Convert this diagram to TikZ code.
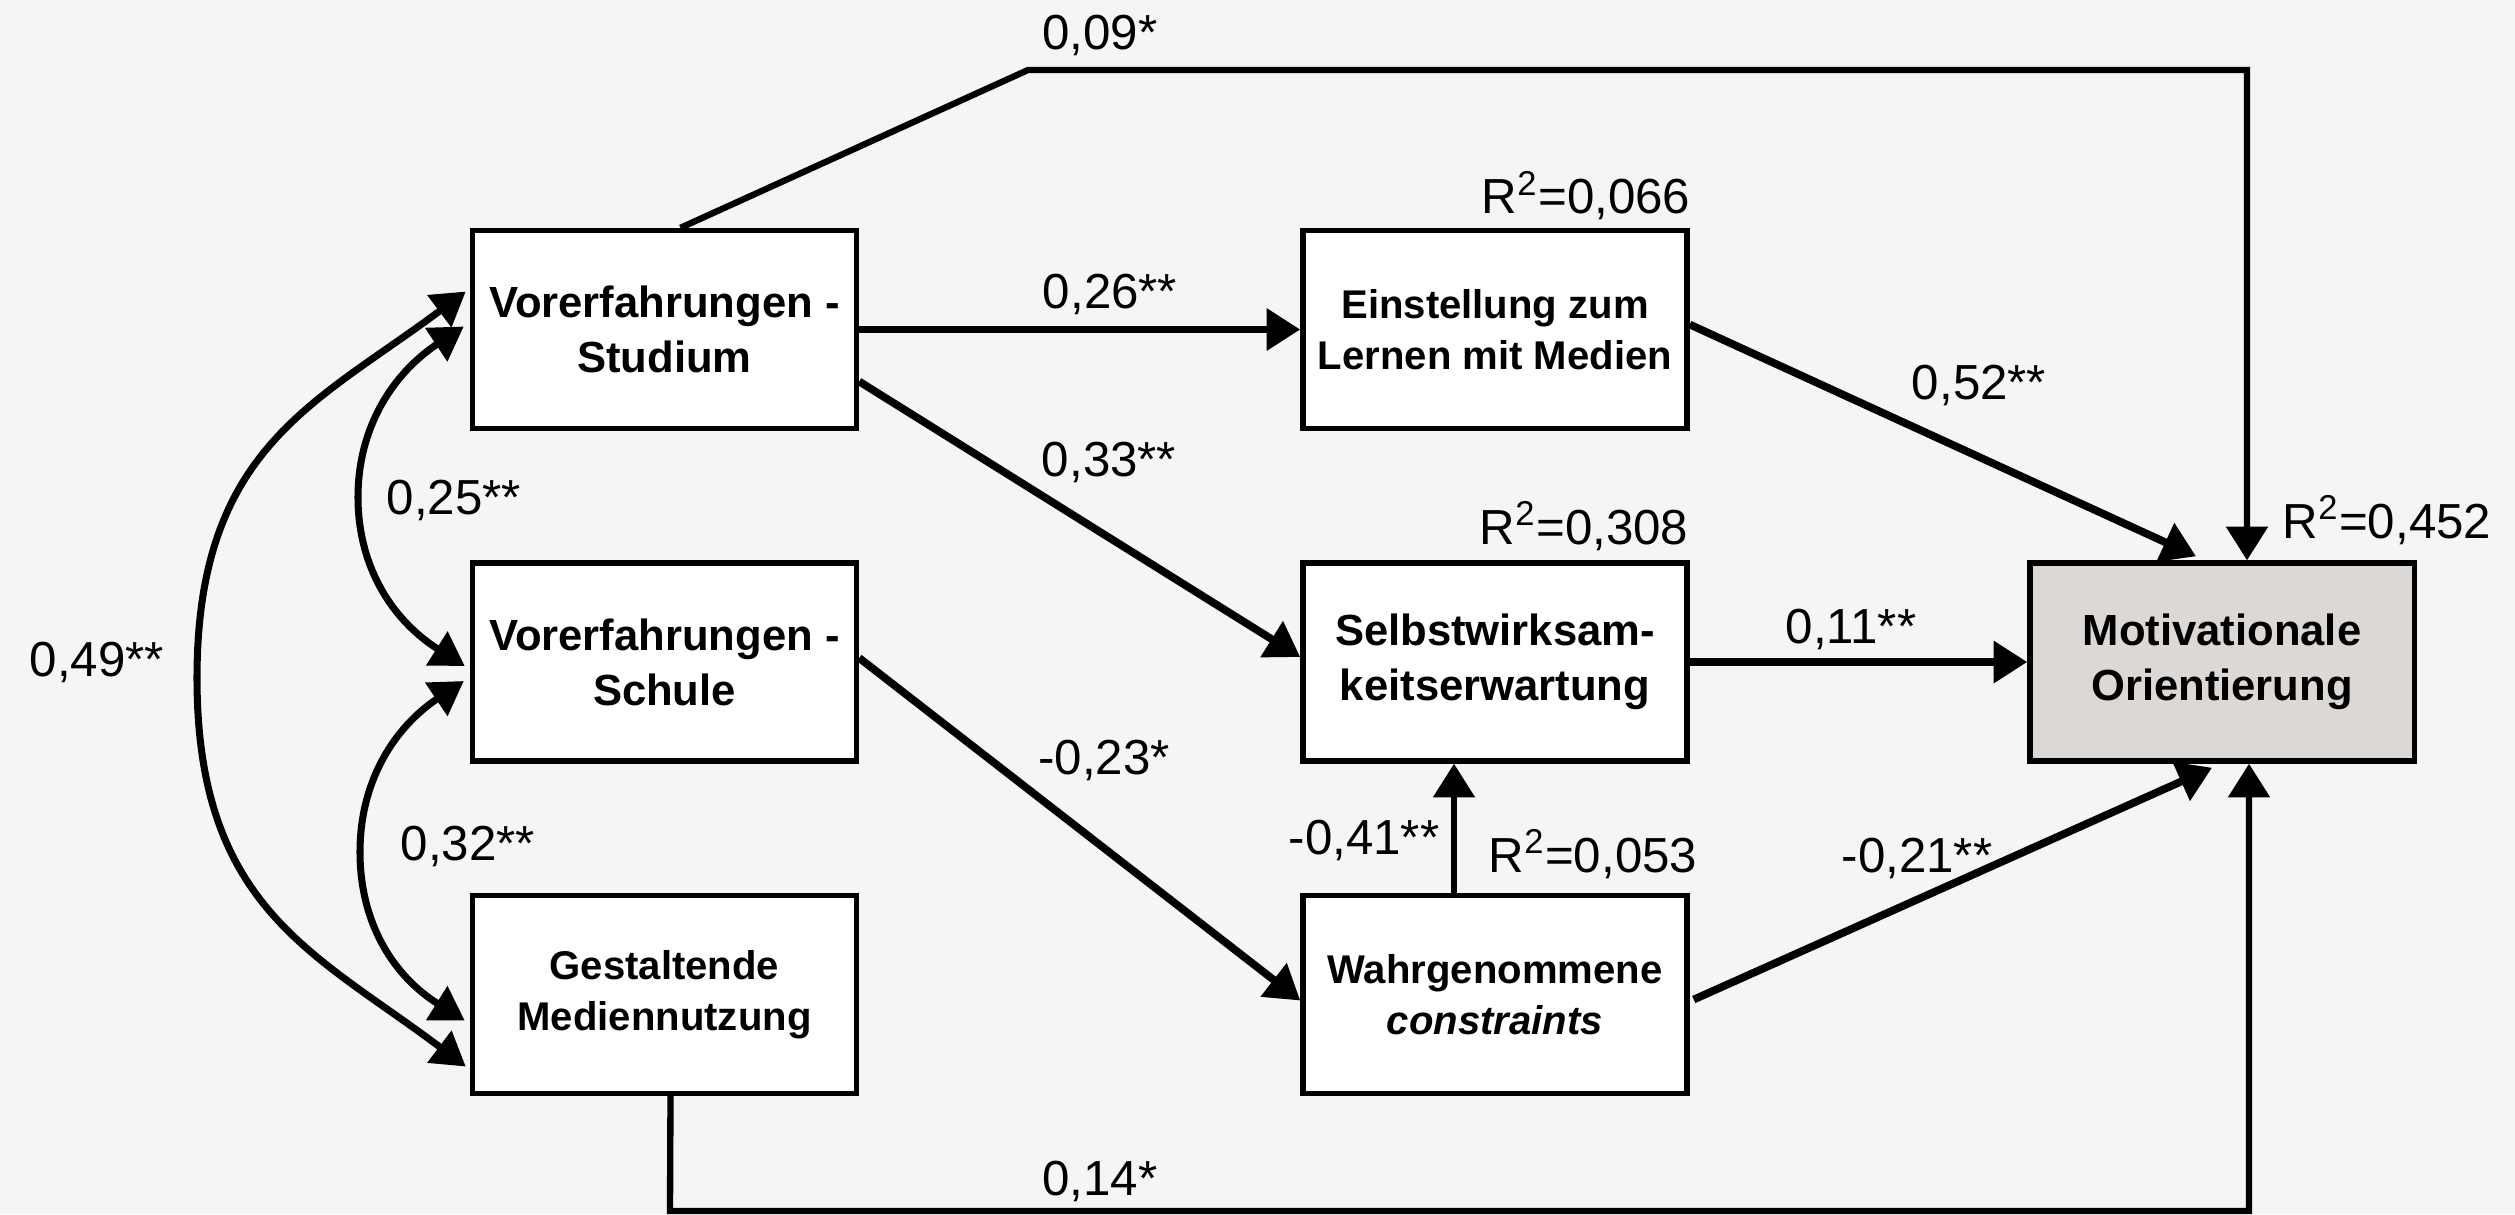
\documentclass[tikz,border=0pt]{standalone}
\usepackage{fontspec}
\setmainfont{Liberation Sans}
\usetikzlibrary{arrows.meta,calc}
\definecolor{bgcol}{RGB}{245,245,243}
\definecolor{motivfill}{RGB}{220,216,213}
\begin{document}
\begin{tikzpicture}[x=0.01cm,y=-0.01cm,
  var/.style={draw, fill=white, line width=1.5pt, minimum width=3.84cm,
    minimum height=1.98cm, inner sep=0pt, align=center,
    font=\bfseries\fontsize{12.4}{15.6}\selectfont},
  varsmall/.style={var, font=\bfseries\fontsize{11.4}{14.4}\selectfont},
  tipshape/.style={-{Triangle[length=9.6pt,width=11.6pt]}},
  effect/.style={line width=2.2pt, tipshape},
  route/.style={line width=1.8pt, tipshape},
  corr/.style={line width=2pt,
    {Triangle[length=9.4pt,width=11pt]}-{Triangle[length=9.4pt,width=11pt]}},
  coef/.style={anchor=base, inner sep=0pt, font=\fontsize{14}{16}\selectfont},
]
% canvas
\fill[bgcol] (0,0) rectangle (2515,1214);
\useasboundingbox (0,0) rectangle (2515,1214);

% variables
\node[var]      (stud)   at (664.5,329.5) {Vorerfahrungen -\\Studium};
\node[var]      (schule) at (664.5,662)   {Vorerfahrungen -\\Schule};
\node[varsmall] (gest)   at (664.5,994.5) {Gestaltende\\Mediennutzung};
\node[varsmall] (einst)  at (1495,329.5)  {Einstellung zum\\Lernen mit Medien};
\node[var]      (selbst) at (1495,662)    {Selbstwirksam-\\keitserwartung};
\node[varsmall] (wahr)   at (1495,994.5)  {Wahrgenommene\\\textit{constraints}};
\node[var, fill=motivfill] (motiv) at (2222,662) {Motivationale\\Orientierung};

% bend points of the long routes
\coordinate (tl) at (1028,70);
\coordinate (tr) at (2247,70);
\coordinate (bl) at (670,1211);
\coordinate (br) at (2249,1211);

% direct effects
\draw[route]  ($(stud.north)+(16,0)$) -- (tl) -- (tr) -- (tr |- motiv.north);
\draw[effect] (stud.east) -- (einst.west);
\draw[effect] ($(stud.east)+(0,52)$) -- ($(selbst.west)+(0,-5)$);
\draw[effect] ($(schule.east)+(0,-4)$) -- ($(wahr.west)+(0,6)$);
\draw[effect] ($(einst.east)+(0,-5)$) -- ($(motiv.north)+(-26,-4)$);
\draw[effect] (selbst.east) -- (motiv.west);
\draw[route]  ($(wahr.north)+(-41,0)$) -- ($(selbst.south)+(-41,0)$);
\draw[effect] ($(wahr.east)+(4,5)$) -- ($(motiv.south)+(-10,4)$);
\draw[route]  ($(gest.south)+(6,0)$) -- (bl) -- (br) -- (br |- motiv.south);

% correlations
\draw[corr] ($(stud.west)+(-4,-38)$)
  .. controls (315,404) and (197,448) .. (197,678)
  .. controls (197,908) and (315,953) .. ($(gest.west)+(-4,72)$);
\draw[corr] ($(stud.west)+(-6,-3)$)
  .. controls (395,372) and (358,425) .. (358,497)
  .. controls (358,570) and (395,622) .. ($(schule.west)+(-5,4)$);
\draw[corr] ($(schule.west)+(-6,19)$)
  .. controls (395,727) and (360,780) .. (360,852)
  .. controls (360,925) and (395,977) .. ($(gest.west)+(-5,26)$);

% coefficients
\node[coef] (k09) at (1100,49)   {0,09*};
\node[coef] (k26) at (1110,308)  {0,26**};
\node[coef] (k33) at (1109,476)  {0,33**};
\node[coef] (k25) at (454,514)   {0,25**};
\node[coef] (k49) at (97,676)    {0,49**};
\node[coef] (k32) at (468,860)   {0,32**};
\node[coef] (k23) at (1104,774)  {-0,23*};
\node[coef] (k14) at (1100,1195) {0,14*};
\node[coef] (k52) at (1979,399)  {0,52**};
\node[coef] (k11) at (1851,643)  {0,11**};
\node[coef] (k41) at (1364,854)  {-0,41**};
\node[coef] (k21) at (1917,872)  {-0,21**};

% explained variance
\node[coef, anchor=base east] (r1) at (1691,213.5) {R\textsuperscript{2}=0,066};
\node[coef, anchor=base east] (r2) at (1689,544)   {R\textsuperscript{2}=0,308};
\node[coef, anchor=base west] (r3) at (1488,872)   {R\textsuperscript{2}=0,053};
\node[coef, anchor=base west] (r4) at (2282,538)   {R\textsuperscript{2}=0,452};
\end{tikzpicture}
\end{document}
